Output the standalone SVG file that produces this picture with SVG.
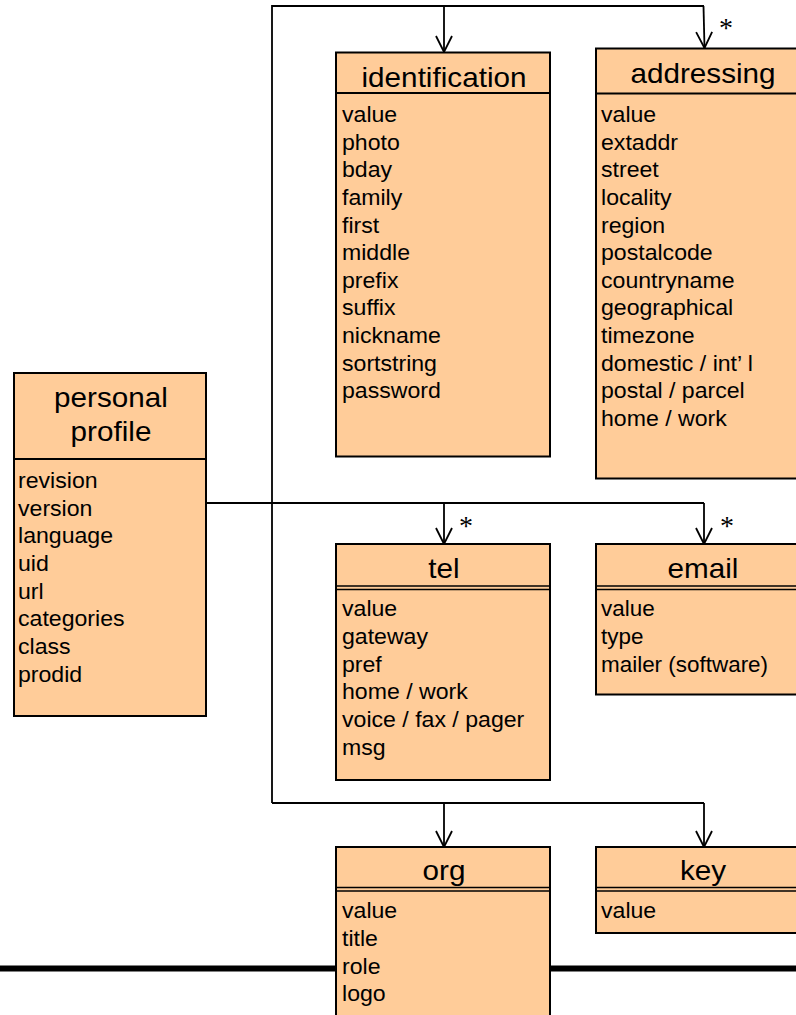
<svg xmlns="http://www.w3.org/2000/svg" width="796" height="1015" viewBox="0 0 796 1015">
  <style>
    .box { fill: #FFCC99; stroke: #000; stroke-width: 2; }
    .div { stroke: #000; stroke-width: 2; fill: none; }
    .div2 { stroke: #000; stroke-width: 1.6; fill: none; }
    .wire { stroke: #000; stroke-width: 1.8; fill: none; }
    .hdr { font-family: "Liberation Sans", Arial, sans-serif; font-size: 28px; fill: #000; text-anchor: middle; }
    .item { font-family: "Liberation Sans", Arial, sans-serif; font-size: 22px; fill: #000; }
    .mult { font-family: "Liberation Serif", "Times New Roman", serif; font-size: 28px; fill: #000; text-anchor: middle; }
  </style>
  <defs>
    <marker id="open" viewBox="-17 -9 18 18" markerWidth="18" markerHeight="18" refX="0" refY="0" orient="auto" markerUnits="userSpaceOnUse">
      <path d="M-16,-8 L0,0 L-16,8" fill="none" stroke="#000" stroke-width="1.8"/>
    </marker>
  </defs>

  <rect width="796" height="1015" fill="#fff"/>

  <!-- heavy rule behind the org box -->
  <line x1="0" y1="968.5" x2="796" y2="968.5" stroke="#000" stroke-width="6"/>

  <g id="connectors">
    <path class="wire" d="M272,803 V6 H704"/>
    <path class="wire" d="M272,803 H704"/>
    <path class="wire" d="M206,503 H704"/>
    <path class="wire" d="M444,6 V52" marker-end="url(#open)"/>
    <path class="wire" d="M703.5,6 L704.5,48" marker-end="url(#open)"/>
    <path class="wire" d="M444,503 V544" marker-end="url(#open)"/>
    <path class="wire" d="M704,503 V544" marker-end="url(#open)"/>
    <path class="wire" d="M444,803 V847" marker-end="url(#open)"/>
    <path class="wire" d="M704,803 V847" marker-end="url(#open)"/>
    <text class="mult" x="726" y="37">*</text>
    <text class="mult" x="466" y="535">*</text>
    <text class="mult" x="727" y="535">*</text>
  </g>

  <g id="personal-profile">
    <rect class="box" x="14" y="373" width="192" height="343"/>
    <line class="div" x1="14" y1="459" x2="206" y2="459"/>
    <g transform="translate(111,0) scale(1.06,1)">
      <text class="hdr" x="0" y="407">personal</text>
      <text class="hdr" x="0" y="441">profile</text>
    </g>
    <g transform="translate(18,0) scale(1.05,1)">
      <text class="item" x="0" y="488.5">revision</text>
      <text class="item" x="0" y="516">version</text>
      <text class="item" x="0" y="543.5">language</text>
      <text class="item" x="0" y="571">uid</text>
      <text class="item" x="0" y="599">url</text>
      <text class="item" x="0" y="626.5">categories</text>
      <text class="item" x="0" y="654.5">class</text>
      <text class="item" x="0" y="682">prodid</text>
    </g>
  </g>

  <g id="identification">
    <rect class="box" x="336" y="52.5" width="214" height="404"/>
    <line class="div" x1="336" y1="93" x2="550" y2="93"/>
    <g transform="translate(444,0) scale(1.06,1)">
      <text class="hdr" x="0" y="87">identification</text>
    </g>
    <g transform="translate(342,0) scale(1.05,1)">
      <text class="item" x="0" y="122.5">value</text>
      <text class="item" x="0" y="150">photo</text>
      <text class="item" x="0" y="177.5">bday</text>
      <text class="item" x="0" y="205.5">family</text>
      <text class="item" x="0" y="233">first</text>
      <text class="item" x="0" y="260.5">middle</text>
      <text class="item" x="0" y="288">prefix</text>
      <text class="item" x="0" y="315.5">suffix</text>
      <text class="item" x="0" y="343">nickname</text>
      <text class="item" x="0" y="371">sortstring</text>
      <text class="item" x="0" y="398.5">password</text>
    </g>
  </g>

  <g id="addressing">
    <rect class="box" x="596" y="48.5" width="216" height="430"/>
    <line class="div" x1="596" y1="93.5" x2="812" y2="93.5"/>
    <g transform="translate(703,0) scale(1.06,1)">
      <text class="hdr" x="0" y="83">addressing</text>
    </g>
    <g transform="translate(601,0) scale(1.05,1)">
      <text class="item" x="0" y="122.5">value</text>
      <text class="item" x="0" y="150">extaddr</text>
      <text class="item" x="0" y="177.5">street</text>
      <text class="item" x="0" y="205.5">locality</text>
      <text class="item" x="0" y="233">region</text>
      <text class="item" x="0" y="260.5">postalcode</text>
      <text class="item" x="0" y="288">countryname</text>
      <text class="item" x="0" y="315.5">geographical</text>
      <text class="item" x="0" y="343">timezone</text>
      <text class="item" x="0" y="371">domestic / int’ l</text>
      <text class="item" x="0" y="398.5">postal / parcel</text>
      <text class="item" x="0" y="426">home / work</text>
    </g>
  </g>

  <g id="tel">
    <rect class="box" x="336" y="544" width="214" height="236"/>
    <line class="div2" x1="336" y1="586" x2="550" y2="586"/>
    <line class="div2" x1="336" y1="589.5" x2="550" y2="589.5"/>
    <g transform="translate(444,0) scale(1.06,1)">
      <text class="hdr" x="0" y="578.5">tel</text>
    </g>
    <g transform="translate(342,0) scale(1.05,1)">
      <text class="item" x="0" y="616.5">value</text>
      <text class="item" x="0" y="644">gateway</text>
      <text class="item" x="0" y="672">pref</text>
      <text class="item" x="0" y="699.5">home / work</text>
      <text class="item" x="0" y="727">voice / fax / pager</text>
      <text class="item" x="0" y="755">msg</text>
    </g>
  </g>

  <g id="email">
    <rect class="box" x="596" y="544" width="216" height="150.5"/>
    <line class="div2" x1="596" y1="586" x2="812" y2="586"/>
    <line class="div2" x1="596" y1="589.5" x2="812" y2="589.5"/>
    <g transform="translate(703,0) scale(1.06,1)">
      <text class="hdr" x="0" y="578.5">email</text>
    </g>
    <g transform="translate(601,0) scale(1.02,1)">
      <text class="item" x="0" y="616.5">value</text>
      <text class="item" x="0" y="644">type</text>
      <text class="item" x="0" y="672">mailer (software)</text>
    </g>
  </g>

  <g id="org">
    <rect class="box" x="336" y="847" width="214" height="200"/>
    <line class="div2" x1="336" y1="887.5" x2="550" y2="887.5"/>
    <line class="div2" x1="336" y1="891" x2="550" y2="891"/>
    <g transform="translate(444,0) scale(1.06,1)">
      <text class="hdr" x="0" y="880.5">org</text>
    </g>
    <g transform="translate(342,0) scale(1.05,1)">
      <text class="item" x="0" y="918.5">value</text>
      <text class="item" x="0" y="946">title</text>
      <text class="item" x="0" y="974">role</text>
      <text class="item" x="0" y="1001.5">logo</text>
    </g>
  </g>

  <g id="key">
    <rect class="box" x="596" y="847" width="216" height="86"/>
    <line class="div2" x1="596" y1="887.5" x2="812" y2="887.5"/>
    <line class="div2" x1="596" y1="891" x2="812" y2="891"/>
    <g transform="translate(703,0) scale(1.06,1)">
      <text class="hdr" x="0" y="880.5">key</text>
    </g>
    <g transform="translate(601,0) scale(1.05,1)">
      <text class="item" x="0" y="918.5">value</text>
    </g>
  </g>
</svg>
